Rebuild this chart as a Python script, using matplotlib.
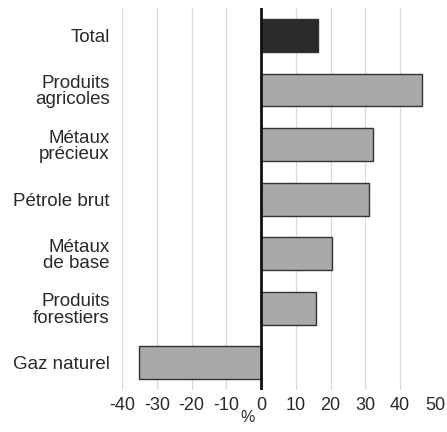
import matplotlib
matplotlib.use("Agg")
import matplotlib.pyplot as plt

categories = ["Total", "Produits\nagricoles", "Métaux\nprécieux", "Pétrole brut",
              "Métaux\nde base", "Produits\nforestiers", "Gaz naturel"]
values = [16.3, 46.3, 32.2, 31.0, 20.4, 15.8, -35.0]
colors = ["#2b2b2b", "#a9a9a9", "#a9a9a9", "#a9a9a9", "#a9a9a9", "#a9a9a9", "#a9a9a9"]
xticks = [-40, -30, -20, -10, 0, 10, 20, 30, 40, 50]

plt.rcParams['font.family'] = ['Liberation Sans', 'DejaVu Sans']

fig = plt.figure(figsize=(4.47, 4.32), dpi=100)
ax = fig.add_axes([0.273, 0.097, 0.700, 0.884])

pos = list(range(len(categories)))
ax.barh(pos, values, height=0.6, color=colors, edgecolor="#333333", linewidth=1.0, zorder=3)
ax.set_ylim(6.5, -0.5)
ax.set_xlim(-40, 50)
ax.set_xticks(xticks)
ax.set_xticklabels([str(t) for t in xticks])
ax.set_yticks(pos)
ax.set_yticklabels(categories, ha="right", multialignment="right", linespacing=0.95)
ax.tick_params(axis="y", length=0, labelsize=13.5, colors="#2a2a2a", pad=9)
ax.tick_params(axis="x", length=0, labelsize=13, colors="#2a2a2a", pad=5)
ax.grid(axis="x", color="#d9d9d9", linewidth=0.9, zorder=0)
ax.axvline(0, color="#111111", linewidth=2.0, zorder=4)
for s in ax.spines.values():
    s.set_visible(False)
fig.text(248 / 447, 1 - 418 / 432, "%", fontsize=11.5, color="#2a2a2a", ha="center", va="center")

fig.savefig("out.png", dpi=100, facecolor="white")
